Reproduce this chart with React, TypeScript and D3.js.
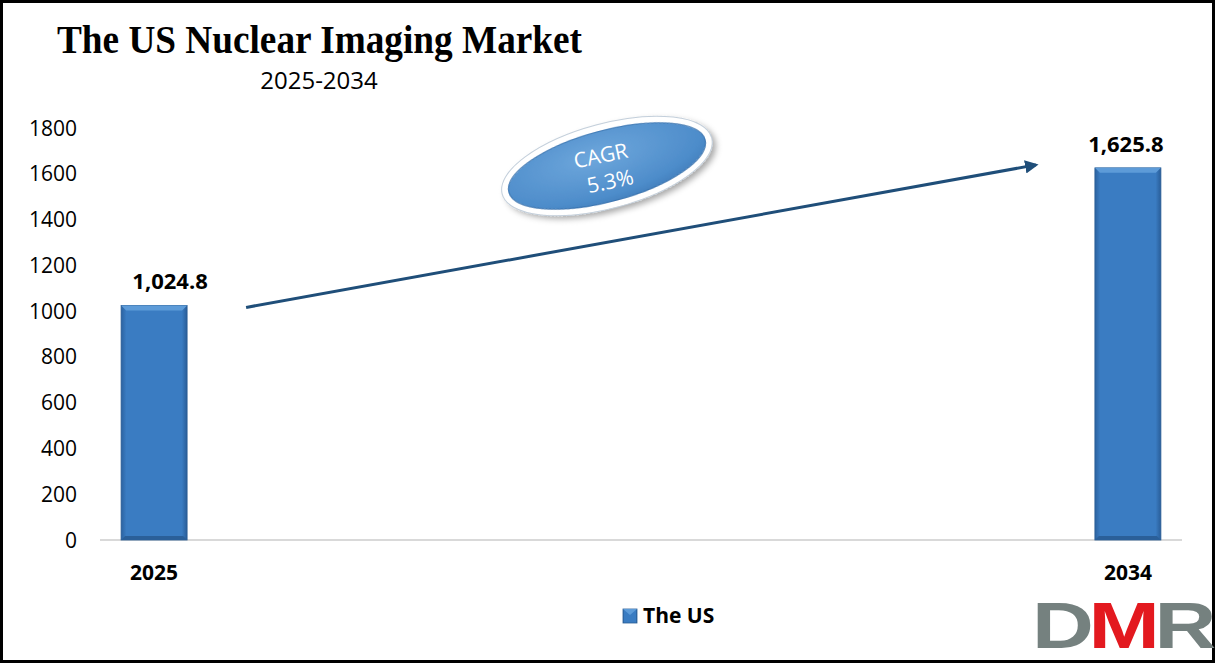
import * as d3 from 'd3';

// chart data
const years = ['2025', '2026', '2027', '2028', '2029', '2030', '2031', '2032', '2033', '2034'];
const usValues: (number | null)[] = [1024.8, null, null, null, null, null, null, null, null, 1625.8];
const xTickLabels = ['2025', '', '', '', '', '', '', '', '', '2034'];
const yTicks = [0, 200, 400, 600, 800, 1000, 1200, 1400, 1600, 1800];
const seriesName = 'The US';
const cagrText = ['CAGR', '5.3%'];
const title = 'The US Nuclear Imaging Market';
const subtitle = '2025-2034';

const W = 1216;
const H = 663;
const margin = { top: 128, right: 34, bottom: 123, left: 100 };
const font = "'Open Sans', 'Liberation Sans', sans-serif";

const App = () => {
  const x = d3.scaleBand<string>()
    .domain(years)
    .range([margin.left, W - margin.right])
    .paddingInner(0.39)
    .paddingOuter(0.195);

  const y = d3.scaleLinear()
    .domain([0, 1800])
    .range([H - margin.bottom, margin.top]);

  const fmt = d3.format(',.1f');
  const bw = x.bandwidth();
  const cx = (k: string) => (x(k) as number) + bw / 2;

  const first = years[0];
  const last = years[years.length - 1];
  const arrowStart = [cx(first) + 92, y(usValues[0] as number) + 2];
  const arrowEnd = [cx(last) - 92, y(usValues[usValues.length - 1] as number) - 3];

  const ell = { cx: 607, cy: 166, rot: -15 };

  return (
    <svg width={W} height={H} style={{ position: 'absolute', left: 0, top: 0, background: '#fff' }}>
      <defs>
        <linearGradient id="barGrad" x1="0" x2="1" y1="0" y2="0">
          <stop offset="0" stopColor="#2b62a0" />
          <stop offset="0.08" stopColor="#3a7cc2" />
          <stop offset="0.92" stopColor="#3a7cc2" />
          <stop offset="1" stopColor="#295d98" />
        </linearGradient>
        <radialGradient id="ellGrad" cx="0.45" cy="0.35" r="0.75">
          <stop offset="0" stopColor="#6ea7dc" />
          <stop offset="0.7" stopColor="#4d8cca" />
          <stop offset="1" stopColor="#3772b0" />
        </radialGradient>
        <filter id="shadow" x="-20%" y="-30%" width="140%" height="170%">
          <feDropShadow dx="3" dy="4" stdDeviation="3" floodColor="#000" floodOpacity="0.35" />
        </filter>
        <marker id="arrowHead" viewBox="0 0 10 10" refX="8" refY="5" markerWidth="4.5" markerHeight="4.5" orient="auto">
          <path d="M0,0 L10,5 L0,10 z" fill="#1f4e79" />
        </marker>
      </defs>

      {/* frame */}
      <rect x={1.5} y={1.5} width={W - 4} height={H - 3} fill="none" stroke="#000" strokeWidth={3} />

      {/* titles */}
      <text x={57} y={53} fontFamily="'Liberation Serif', 'Times New Roman', serif" fontWeight="bold"
        fontSize={40} textLength={525} lengthAdjust="spacingAndGlyphs" fill="#000">{title}</text>
      <text x={319} y={89} fontFamily={font} fontSize={24} textAnchor="middle" fill="#000">{subtitle}</text>

      {/* y axis labels */}
      {yTicks.map(t => (
        <text key={t} x={77} y={y(t)} dy="0.36em" textAnchor="end" fontFamily={font} fontSize={21} fill="#000">{t}</text>
      ))}

      {/* baseline */}
      <line x1={margin.left} x2={W - margin.right} y1={y(0)} y2={y(0)} stroke="#d9d9d9" strokeWidth={2} />

      {/* bars */}
      {years.map((k, i) => {
        const v = usValues[i];
        if (v == null) return null;
        const bx = x(k) as number;
        const by = y(v);
        const bh = y(0) - by;
        return (
          <g key={k}>
            <rect x={bx} y={by} width={bw} height={bh} fill="url(#barGrad)" stroke="#2a5d94" strokeWidth={0.8} />
            <path d={`M${bx},${by} L${bx + bw},${by} L${bx + bw - 5},${by + 5} L${bx + 5},${by + 5} Z`} fill="#5d9bd8" />
            <path d={`M${bx},${by + bh} L${bx + bw},${by + bh} L${bx + bw - 4},${by + bh - 4} L${bx + 4},${by + bh - 4} Z`} fill="#2a5f99" />
            <text x={cx(k) + (i === 0 ? 16 : -2)} y={by - 16} textAnchor="middle" fontFamily={font}
              fontWeight="bold" fontSize={22} fill="#000">{fmt(v)}</text>
          </g>
        );
      })}

      {/* x labels */}
      {years.map((k, i) => xTickLabels[i] ? (
        <text key={k} x={cx(k)} y={580} textAnchor="middle" fontFamily={font} fontWeight="bold" fontSize={21} fill="#000">{xTickLabels[i]}</text>
      ) : null)}

      {/* growth arrow */}
      <line x1={arrowStart[0]} y1={arrowStart[1]} x2={arrowEnd[0]} y2={arrowEnd[1]}
        stroke="#1f4e79" strokeWidth={3} markerEnd="url(#arrowHead)" />

      {/* CAGR bubble */}
      <g transform={`translate(${ell.cx},${ell.cy}) rotate(${ell.rot})`}>
        <ellipse rx={105} ry={39} fill="url(#ellGrad)" stroke="#fff" strokeWidth={6} filter="url(#shadow)" />
        <ellipse rx={108.5} ry={42.5} fill="none" stroke="#c3cfdb" strokeWidth={1} />
        <ellipse rx={101.5} ry={35.5} fill="none" stroke="#2f6aa6" strokeWidth={1.2} opacity={0.6} />
      </g>
      <g transform={`translate(${ell.cx},${ell.cy}) rotate(-12)`}>
        <text x={-4} y={-4} textAnchor="middle" fontFamily={font} fontSize={21} fill="#fff">{cagrText[0]}</text>
        <text x={0} y={23} textAnchor="middle" fontFamily={font} fontSize={21} fill="#fff">{cagrText[1]}</text>
      </g>

      {/* legend */}
      <rect x={623} y={609} width={14} height={14} fill="url(#barGrad)" stroke="#2a5d94" strokeWidth={0.8} />
      <path d="M623,609 L637,609 L630,615 Z" fill="#5d9bd8" />
      <text x={643} y={623} fontFamily={font} fontWeight="bold" fontSize={21} fill="#000">{seriesName}</text>

      {/* logo */}
      <text x={1032} y={648} fontFamily="'Liberation Sans', Arial, sans-serif" fontWeight="bold" fontSize={64}
        textLength={179} lengthAdjust="spacingAndGlyphs" letterSpacing={-4}>
        <tspan fill="#75817f">D</tspan>
        <tspan fill="#e3191f">M</tspan>
        <tspan fill="#75817f">R</tspan>
      </text>
    </svg>
  );
};

export default App;
